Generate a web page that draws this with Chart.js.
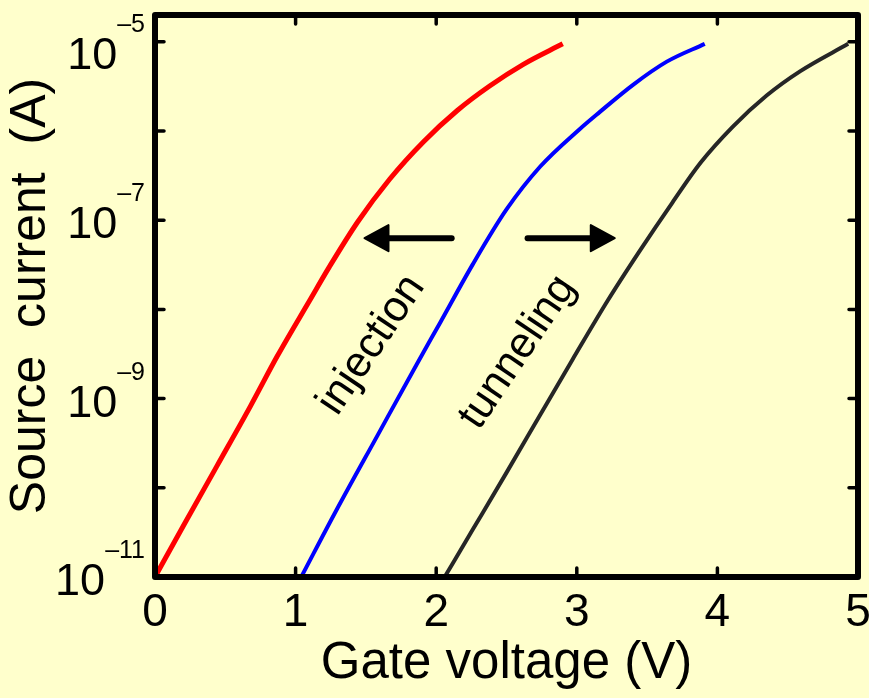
<!DOCTYPE html>
<html>
<head>
  <title>Source current vs gate voltage</title>
  <script src="https://cdn.jsdelivr.net/npm/chart.js"></script>
  <style>
    body {
      margin: 0;
      background: #ffffcc;
    }
    canvas {
      display: block;
    }
  </style>
</head>
<body>
  <canvas id="ivChart" width="869" height="698"></canvas>

  <script>
    // values (gate voltage in V, source current in A)
    const redV = [0.00, 0.20, 0.44, 0.68, 0.87, 1.10, 1.24, 1.44, 1.67, 1.91, 2.15, 2.38, 2.62, 2.90];
    const redI = [1.0e-11, 3.7e-11, 1.75e-10, 8.3e-10, 3.0e-9, 1.26e-8, 3.0e-8, 9.5e-8, 2.9e-7, 7.6e-7, 1.7e-6, 3.2e-6, 5.6e-6, 9.5e-6];

    const blueV = [1.04, 1.29, 1.58, 1.86, 2.03, 2.26, 2.50, 2.74, 3.02, 3.16, 3.40, 3.64, 3.91];
    const blueI = [1.0e-11, 5.6e-11, 3.8e-10, 2.4e-9, 7.2e-9, 3.2e-8, 1.32e-7, 4.0e-7, 1.05e-6, 1.62e-6, 3.3e-6, 6.0e-6, 9.5e-6];

    const blackV = [2.06, 2.26, 2.50, 2.74, 2.97, 3.22, 3.45, 3.68, 3.88, 4.11, 4.35, 4.59, 4.93];
    const blackI = [1.0e-11, 3.4e-11, 1.48e-10, 6.6e-10, 2.75e-9, 1.26e-8, 4.6e-8, 1.58e-7, 4.4e-7, 1.12e-6, 2.5e-6, 4.7e-6, 9.5e-6];

    const xTicks = [0, 1, 2, 3, 4, 5];
    const yTicks = [1e-11, 1e-10, 1e-9, 1e-8, 1e-7, 1e-6, 1e-5];
    const yLabelTicks = [1e-11, 1e-9, 1e-7, 1e-5];
    const yLabelExp = ['\u201311', '\u20139', '\u20137', '\u20135'];

    const FONT = "'Liberation Sans', Arial, Helvetica, sans-serif";
    const BG = '#ffffcc';

    const toPoints = (xs, ys) => xs.map((v, i) => ({ x: v, y: ys[i] }));

    // box, inward ticks, y labels with superscripts, arrows and notes
    const matlabFrame = {
      id: 'matlabFrame',
      beforeDraw(chart) {
        const ctx = chart.ctx;
        ctx.save();
        ctx.fillStyle = BG;
        ctx.fillRect(0, 0, chart.width, chart.height);
        ctx.restore();
      },
      afterDatasetsDraw(chart) {
        const { ctx, chartArea: a, scales: { x, y } } = chart;
        ctx.save();
        ctx.strokeStyle = '#000';
        ctx.lineWidth = 6;
        ctx.lineJoin = 'round';
        ctx.strokeRect(a.left, a.top, a.right - a.left, a.bottom - a.top);

        ctx.lineWidth = 3.5;
        ctx.lineCap = 'round';
        ctx.beginPath();
        xTicks.forEach(v => {
          const px = x.getPixelForValue(v);
          ctx.moveTo(px, a.bottom); ctx.lineTo(px, a.bottom - 9);
          ctx.moveTo(px, a.top); ctx.lineTo(px, a.top + 9);
        });
        yTicks.forEach(v => {
          const py = y.getPixelForValue(v);
          ctx.moveTo(a.left, py); ctx.lineTo(a.left + 9, py);
          ctx.moveTo(a.right, py); ctx.lineTo(a.right - 9, py);
        });
        ctx.stroke();

        // y tick labels: 10 with a raised exponent
        ctx.fillStyle = '#000';
        ctx.textBaseline = 'alphabetic';
        ctx.textAlign = 'left';
        yLabelTicks.forEach((v, i) => {
          const py = y.getPixelForValue(v);
          const shift = Math.max(0, 15 - (py - 36));
          ctx.font = `25px ${FONT}`;
          const ew = ctx.measureText(yLabelExp[i]).width;
          ctx.font = `45px ${FONT}`;
          const bw = ctx.measureText('10').width;
          const right = 145;
          ctx.fillText('10', right - ew - bw, py + 18 + shift);
          ctx.font = `25px ${FONT}`;
          ctx.fillText(yLabelExp[i], right - ew, py - 19 + shift);
        });

        // arrows
        const arrow = (v0, v1, iv) => {
          const x0 = x.getPixelForValue(v0);
          const x1 = x.getPixelForValue(v1);
          const py = y.getPixelForValue(iv);
          const dir = Math.sign(x1 - x0);
          ctx.lineWidth = 6;
          ctx.beginPath();
          ctx.moveTo(x0, py);
          ctx.lineTo(x1 - dir * 20, py);
          ctx.stroke();
          ctx.beginPath();
          ctx.lineJoin = 'round';
          ctx.lineWidth = 2;
          ctx.moveTo(x1, py);
          ctx.lineTo(x1 - dir * 24, py - 13);
          ctx.lineTo(x1 - dir * 24, py + 13);
          ctx.closePath();
          ctx.fill();
          ctx.stroke();
        };
        arrow(2.11, 1.49, 6.3e-8);
        arrow(2.65, 3.27, 6.3e-8);

        // rotated notes
        const note = (text, v, iv) => {
          ctx.save();
          ctx.translate(x.getPixelForValue(v), y.getPixelForValue(iv));
          ctx.rotate(-56 * Math.PI / 180);
          ctx.font = `43px ${FONT}`;
          ctx.textAlign = 'center';
          ctx.textBaseline = 'middle';
          ctx.fillText(text, 0, 0);
          ctx.restore();
        };
        note('injection', 1.54, 4.0e-9);
        note('tunneling', 2.58, 3.3e-9);
        ctx.restore();
      }
    };

    new Chart(document.getElementById('ivChart'), {
      type: 'line',
      data: {
        datasets: [
          { label: 'red', data: toPoints(redV, redI), borderColor: '#ff0000', borderWidth: 5 },
          { label: 'blue', data: toPoints(blueV, blueI), borderColor: '#0000ff', borderWidth: 4 },
          { label: 'black', data: toPoints(blackV, blackI), borderColor: '#262626', borderWidth: 4 }
        ]
      },
      options: {
        responsive: false,
        animation: false,
        layout: { padding: { left: 0, right: 11, top: 15, bottom: 0 } },
        elements: {
          point: { radius: 0 },
          line: { cubicInterpolationMode: 'monotone', fill: false }
        },
        plugins: {
          legend: { display: false },
          tooltip: { enabled: false }
        },
        scales: {
          x: {
            type: 'linear',
            min: 0,
            max: 5,
            grid: { display: false, drawTicks: false },
            border: { display: false },
            ticks: {
              stepSize: 1,
              padding: 9,
              color: '#000',
              font: { family: FONT, size: 46, lineHeight: 1.2 }
            },
            title: {
              display: true,
              text: 'Gate voltage (V)',
              color: '#000',
              font: { family: FONT, size: 51, lineHeight: 1.2 },
              padding: { top: 0, bottom: 3 }
            },
            afterFit: s => {
              s.height = 121;
              s.paddingLeft = 0;
              s.paddingRight = 0;
            }
          },
          y: {
            type: 'logarithmic',
            min: 1e-11,
            max: 2e-5,
            bounds: 'data',
            grid: { display: false, drawTicks: false },
            border: { display: false },
            ticks: { display: false },
            afterBuildTicks: s => { s.ticks = yTicks.map(v => ({ value: v })); },
            title: {
              display: true,
              text: 'Source  current  (A)',
              color: '#000',
              font: { family: FONT, size: 50, lineHeight: 1.2 },
              padding: { top: 1, bottom: 0 }
            },
            afterFit: s => { s.width = 155; }
          }
        }
      },
      plugins: [matlabFrame]
    });
  </script>
</body>
</html>
